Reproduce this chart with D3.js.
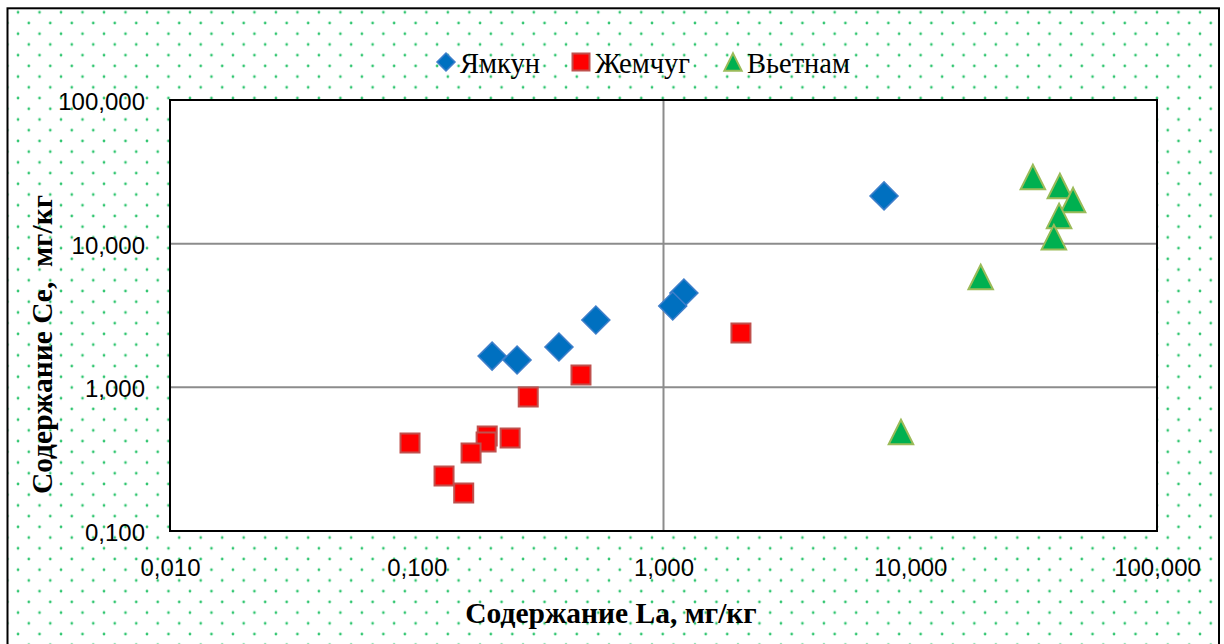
<!DOCTYPE html>
<html>
<head>
<meta charset="utf-8">
<script src="https://cdn.jsdelivr.net/npm/d3@7"></script>
<style>
  html, body { margin: 0; padding: 0; background: #ffffff; }
  svg { display: block; }
</style>
</head>
<body>
<svg id="chart" width="1224" height="644"></svg>
<script>
// Series: La (x) and Ce (y) content, mg/kg
const seriesNames = ["Ямкун", "Жемчуг", "Вьетнам"];

const yamkunLa = [7.83, 1.21, 1.09, 0.532, 0.377, 0.255, 0.202];
const yamkunCe = [21.5, 4.54, 3.68, 2.94, 1.91, 1.55, 1.65];

const zhemchugLa = [2.06, 0.463, 0.283, 0.0939, 0.193, 0.191, 0.239, 0.166, 0.129, 0.155];
const zhemchugCe = [2.39, 1.22, 0.857, 0.41, 0.458, 0.417, 0.444, 0.349, 0.241, 0.184];

const vietnamLa = [31.4, 40.4, 45.7, 40.1, 38.2, 19.3, 9.17];
const vietnamCe = [29.1, 25.2, 20.1, 15.6, 11.1, 5.86, 0.489];

const xTicks = [0.01, 0.1, 1, 10, 100];
const yTicks = [0.1, 1, 10, 100];
const xGrid = [1];
const yGrid = [1, 10];

const xTitle = "Содержание La, мг/кг";
const yTitle = "Содержание Се,\u00a0 мг/кг";

// ---------------------------------------------------------------
const svg = d3.select("#chart");
const plot = { left: 170, right: 1157, top: 100, bottom: 531 };

const ru = d3.formatLocale({ decimal: ",", thousands: " ", grouping: [3], currency: ["", ""] });
const fmt = ru.format(".3f");

const x = d3.scaleLog().domain([0.01, 100]).range([plot.left, plot.right]);
const y = d3.scaleLog().domain([0.1, 100]).range([plot.bottom, plot.top]);

// dotted chart-area fill
const defs = svg.append("defs");
const pat = defs.append("pattern")
  .attr("id", "dots")
  .attr("patternUnits", "userSpaceOnUse")
  .attr("x", 7.3).attr("y", 1.6)
  .attr("width", 21.49).attr("height", 21.44);
[[10.745, 10.72], [0, 0], [21.49, 0], [0, 21.44], [21.49, 21.44]].forEach(([cx, cy]) => {
  pat.append("circle").attr("cx", cx).attr("cy", cy).attr("r", 1.35).attr("fill", "#2fc56f");
});

svg.append("rect")
  .attr("x", 7.5).attr("y", 8.3)
  .attr("width", 1211.5).attr("height", 660)
  .attr("fill", "url(#dots)")
  .attr("stroke", "#000").attr("stroke-width", 2);

// plot area
svg.append("rect")
  .attr("x", plot.left).attr("y", plot.top)
  .attr("width", plot.right - plot.left).attr("height", plot.bottom - plot.top)
  .attr("fill", "#fff");

// gridlines
const grid = svg.append("g").attr("stroke", "#8c8c8c").attr("stroke-width", 2);
grid.selectAll("line.h").data(yGrid).join("line")
  .attr("class", "h")
  .attr("x1", plot.left).attr("x2", plot.right)
  .attr("y1", d => y(d)).attr("y2", d => y(d));
grid.selectAll("line.v").data(xGrid).join("line")
  .attr("class", "v")
  .attr("y1", plot.top).attr("y2", plot.bottom)
  .attr("x1", d => x(d)).attr("x2", d => x(d));

svg.append("rect")
  .attr("x", plot.left).attr("y", plot.top)
  .attr("width", plot.right - plot.left).attr("height", plot.bottom - plot.top)
  .attr("fill", "none").attr("stroke", "#000").attr("stroke-width", 2);

// axes (labels only)
const tickFont = "'Liberation Sans', Arial, sans-serif";
const xAxis = svg.append("g")
  .attr("transform", `translate(0,${plot.bottom})`)
  .call(d3.axisBottom(x).tickValues(xTicks).tickFormat(fmt).tickSize(0));
xAxis.select(".domain").remove();
xAxis.selectAll("text")
  .attr("y", 45).attr("dy", 0)
  .attr("font-family", tickFont).attr("font-size", 24).attr("fill", "#000");

const yAxis = svg.append("g")
  .attr("transform", `translate(${plot.left},0)`)
  .call(d3.axisLeft(y).tickValues(yTicks).tickFormat(fmt).tickSize(0));
yAxis.select(".domain").remove();
yAxis.selectAll("text")
  .attr("x", -25).attr("dy", "0.4em")
  .attr("font-family", tickFont).attr("font-size", 24).attr("fill", "#000");

// axis titles
const titleFont = "'Liberation Serif', 'Times New Roman', serif";
svg.append("text")
  .attr("x", 611).attr("y", 623)
  .attr("text-anchor", "middle")
  .attr("font-family", titleFont).attr("font-weight", "bold").attr("font-size", 29.5)
  .text(xTitle);
svg.append("text")
  .attr("transform", "translate(52,344.5) rotate(-90)")
  .attr("text-anchor", "middle")
  .attr("font-family", titleFont).attr("font-weight", "bold").attr("font-size", 29.5)
  .text(yTitle);

// marker shapes
const triangleUp = {
  draw(ctx, size) {
    const s = Math.sqrt(size) / 2;
    ctx.moveTo(0, -s);
    ctx.lineTo(s, s);
    ctx.lineTo(-s, s);
    ctx.closePath();
  }
};

const series = [
  { name: seriesNames[0], la: yamkunLa, ce: yamkunCe, type: d3.symbolSquare, size: 392, rot: 45,
    fill: "#0070c0", stroke: "#3f7fca", sw: 1.5, legendSize: 162 },
  { name: seriesNames[1], la: zhemchugLa, ce: zhemchugCe, type: d3.symbolSquare, size: 361, rot: 0,
    fill: "#ff0000", stroke: "#c0504d", sw: 2, legendSize: 289 },
  { name: seriesNames[2], la: vietnamLa, ce: vietnamCe, type: triangleUp, size: 600, rot: 0,
    fill: "#00b050", stroke: "#9bbb59", sw: 2, legendSize: 300 }
];

series.forEach(s => {
  const pts = s.la.map((v, i) => ({ la: v, ce: s.ce[i] }));
  svg.append("g").selectAll("path").data(pts).join("path")
    .attr("d", d3.symbol(s.type, s.size))
    .attr("transform", d => `translate(${x(d.la)},${y(d.ce)}) rotate(${s.rot})`)
    .attr("fill", s.fill)
    .attr("stroke", s.stroke)
    .attr("stroke-width", s.sw);
});

// legend
const legendX = [446, 581, 733];
const legend = svg.append("g");
series.forEach((s, i) => {
  legend.append("path")
    .attr("d", d3.symbol(s.type, s.legendSize))
    .attr("transform", `translate(${legendX[i]},62) rotate(${s.rot})`)
    .attr("fill", s.fill).attr("stroke", s.stroke).attr("stroke-width", s.sw);
  legend.append("text")
    .attr("x", legendX[i] + 14).attr("y", 73)
    .attr("font-family", titleFont).attr("font-size", 28.5).attr("fill", "#000")
    .text(s.name);
});
</script>
</body>
</html>
